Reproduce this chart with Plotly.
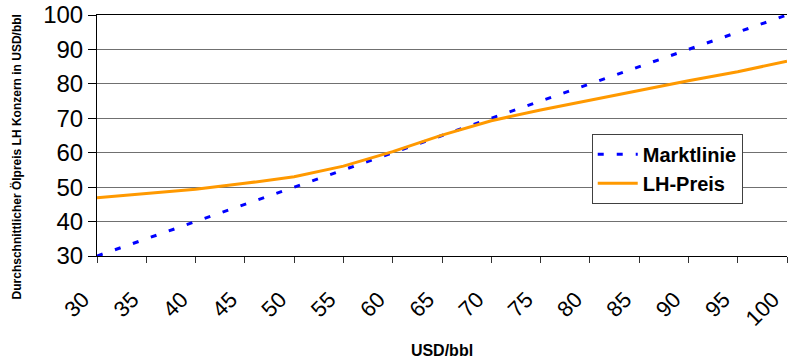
import plotly.graph_objects as go

# Oil price levels (USD/bbl)
market_price = [30, 35, 40, 45, 50, 55, 60, 65, 70, 75, 80, 85, 90, 95, 100]
market_line = [30, 35, 40, 45, 50, 55, 60, 65, 70, 75, 80, 85, 90, 95, 100]
lh_price = [46.9, 48.2, 49.4, 51.1, 53.0, 56.1, 60.3, 65.1, 69.3, 72.4, 75.3, 78.0, 80.9, 83.5, 86.6]

tick_vals = [30, 35, 40, 45, 50, 55, 60, 65, 70, 75, 80, 85, 90, 95, 100]
y_ticks = [30, 40, 50, 60, 70, 80, 90, 100]

FONT = "Liberation Sans, Arial, sans-serif"

fig = go.Figure()
fig.add_trace(go.Scatter(
    x=market_price, y=market_line, name="Marktlinie", mode="lines",
    line=dict(color="#0000FF", width=3, dash="6px,13px"),
))
fig.add_trace(go.Scatter(
    x=market_price, y=lh_price, name="LH-Preis", mode="lines",
    line=dict(color="#FF9900", width=3),
))

fig.update_layout(
    width=788, height=364,
    margin=dict(l=97, r=1, t=15, b=108, autoexpand=False),
    paper_bgcolor="white", plot_bgcolor="white",
    font=dict(family=FONT, color="black"),
    showlegend=True,
    legend=dict(
        x=0.717, y=0.507, xanchor="left", yanchor="top",
        bgcolor="white", bordercolor="#404040", borderwidth=1,
        font=dict(family=FONT, size=20, color="black", weight="bold"),
        tracegroupgap=0, itemwidth=40,
    ),
    xaxis=dict(
        range=[30, 100], tickvals=tick_vals, ticktext=[str(v) for v in tick_vals],
        tickangle=-45, tickfont=dict(size=22), ticklabeloverflow="allow",
        ticklabelstandoff=15, ticklabelshift=-14, automargin=False,
        ticks="outside", ticklen=6, tickcolor="#333333",
        showline=True, linecolor="black", linewidth=1, mirror=True,
        showgrid=False, zeroline=False,
        title=dict(text="<b>USD/bbl</b>", font=dict(size=16)),
    ),
    yaxis=dict(
        range=[30, 100], tickvals=y_ticks, tickfont=dict(size=24),
        ticks="outside", ticklen=8, tickcolor="black", automargin=False,
        showline=True, linecolor="black", linewidth=1,
        showgrid=True, gridcolor="#707070", gridwidth=1.3, zeroline=False,
    ),
    annotations=[dict(
        text="<b>Durchschnittlicher Ölpreis LH Konzern in USD/bbl</b>",
        xref="paper", yref="paper", x=-0.117, y=0.41,
        xanchor="center", yanchor="middle", textangle=-90,
        showarrow=False, font=dict(family=FONT, size=12, color="black"),
    )],
)

fig.write_html("out.html")
